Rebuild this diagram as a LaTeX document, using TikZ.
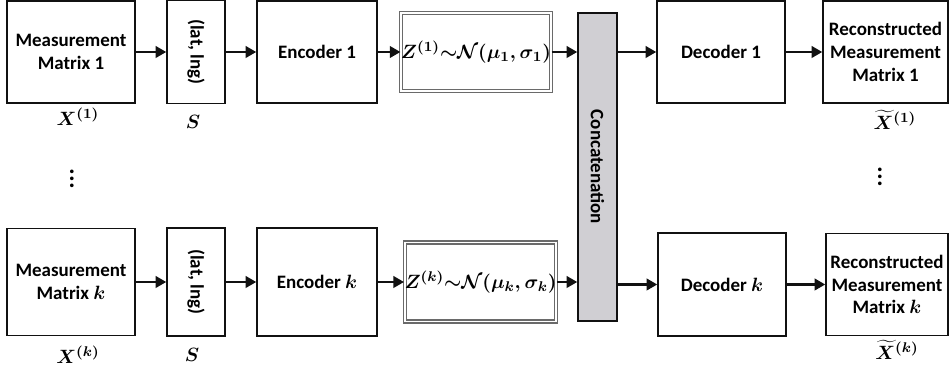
\documentclass[tikz,border=0pt]{standalone}
\usepackage{amsmath,amssymb}
\usepackage{bm}
\usepackage{fontspec}
\setmainfont{Carlito}
\usetikzlibrary{arrows.meta, positioning, calc}
\definecolor{C_LINE}{HTML}{111111}
\definecolor{C_CAT} {HTML}{D0CFD3}
\definecolor{C_DBL} {HTML}{6A6A6A}
\newcommand{\vaefont}{\fontsize{10.8}{13}\selectfont}
\tikzset{
  %% -- plain block --
  vae/box/.style={
    draw=C_LINE, line width=0.85pt, fill=white,
    minimum width=2.56cm, minimum height=2.04cm,
    align=center, inner sep=1pt, font=\vaefont\bfseries\boldmath
  },
  %% -- latent distribution block (double frame) --
  vae/latent/.style={
    draw=C_DBL, double=white, double distance=1.1pt, line width=0.6pt,
    minimum width=2.68cm, minimum height=1.56cm,
    inner sep=0pt, font=\vaefont\boldmath
  },
  %% -- concatenation bar --
  vae/cat/.style={
    draw=C_LINE, line width=0.85pt, fill=C_CAT,
    minimum width=0.78cm, minimum height=6.16cm,
    inner sep=0pt, font=\vaefont\bfseries
  },
  %% -- symbol under a block --
  vae/sym/.style={font=\vaefont\boldmath, inner sep=0pt},
  %% -- data flow arrow --
  vae/arr/.style={-{Triangle[length=6pt, width=6.5pt]}, line width=1.35pt, C_LINE},
}

\begin{document}
\begin{tikzpicture}[x=1cm, y=1cm]
\useasboundingbox (0,0) rectangle (18.98,7.42);

%% Branch 1
\node[vae/box] (meas1) at (1.42, 6.38) {Measurement\\Matrix 1};
\node[vae/box, minimum width=1.16cm, minimum height=2.06cm]
  (loc1) at (3.92, 6.38) {\rotatebox{-90}{(lat, lng)}};
\node[vae/box, minimum width=2.40cm] (enc1) at (6.34, 6.38) {Encoder 1};
\node[vae/latent] (z1) at (9.52, 6.38)
  {$\bm{Z^{(1)}{\sim}\mathcal{N}(\mu_1,\sigma_1)}$};
\node[vae/box] (dec1) at (14.42, 6.38) {Decoder 1};
\node[vae/box, minimum width=2.50cm] (rec1) at (17.71, 6.38)
  {Reconstructed\\Measurement\\Matrix 1};

%% Branch k
\node[vae/box, minimum height=2.14cm] (meask) at (1.42, 1.78)
  {Measurement\\Matrix $\bm{k}$};
\node[vae/box, minimum width=1.16cm, minimum height=2.16cm]
  (lock) at (3.92, 1.78) {\rotatebox{-90}{(lat, lng)}};
\node[vae/box, minimum width=2.40cm, minimum height=2.16cm]
  (enck) at (6.34, 1.78) {Encoder $\bm{k}$};
\node[vae/latent, minimum width=2.74cm, minimum height=1.58cm]
  (zk) at (9.61, 1.78)
  {$\bm{Z^{(k)}{\sim}\mathcal{N}(\mu_k,\sigma_k)}$};
\node[vae/box, minimum height=2.06cm] (deck) at (14.44, 1.73)
  {Decoder $\bm{k}$};
\node[vae/box, minimum width=2.44cm] (reck) at (17.74, 1.73)
  {Reconstructed\\Measurement\\Matrix $\bm{k}$};

%% Shared concatenation
\node[vae/cat] (cat) at (11.95, 4.08) {\rotatebox{-90}{Concatenation}};

%% Symbols
\node[vae/sym] (x1)  at (1.56, 5.08)  {$\bm{X^{(1)}}$};
\node[vae/sym] (s1)  at (3.86, 4.98)  {$\bm{S}$};
\node[vae/sym] (xt1) at (17.90, 5.02) {$\widetilde{\bm{X}}^{\bm{(1)}}$};
\node[vae/sym] (xk)  at (1.56, 0.32)  {$\bm{X^{(k)}}$};
\node[vae/sym] (sk)  at (3.84, 0.32)  {$\bm{S}$};
\node[vae/sym] (xtk) at (17.94, 0.42) {$\widetilde{\bm{X}}^{\bm{(k)}}$};
\node[vae/sym, font=\fontsize{14}{16}\selectfont] (dl) at (1.44, 3.94) {$\bm{\vdots}$};
\node[vae/sym, font=\fontsize{14}{16}\selectfont] (dr) at (17.60, 3.98) {$\bm{\vdots}$};

%% Arrows
\draw[vae/arr] (meas1) -- (loc1);
\draw[vae/arr] (loc1) -- (enc1);
\draw[vae/arr] (enc1) -- (z1);
\draw[vae/arr] (z1) -- (z1 -| cat.west);
\draw[vae/arr] (cat.east |- dec1) -- (dec1);
\draw[vae/arr] (dec1) -- (rec1);

\draw[vae/arr] (meask) -- (lock);
\draw[vae/arr] (lock) -- (enck);
\draw[vae/arr] (enck) -- (zk);
\draw[vae/arr] (zk) -- (zk -| cat.west);
\draw[vae/arr] (cat.east |- deck) -- (deck);
\draw[vae/arr] (deck) -- (reck);
\end{tikzpicture}
\end{document}
